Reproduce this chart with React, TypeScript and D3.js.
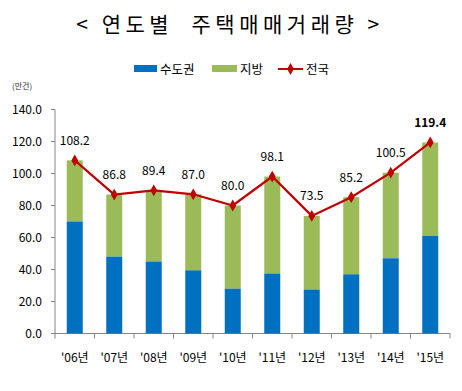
import React from "react";
import * as d3 from "d3";

const years = ["'06년", "'07년", "'08년", "'09년", "'10년", "'11년", "'12년", "'13년", "'14년", "'15년"];
const totals = [108.2, 86.8, 89.4, 87.0, 80.0, 98.1, 73.5, 85.2, 100.5, 119.4];
const capital = [70.0, 48.0, 45.0, 39.5, 28.0, 37.5, 27.5, 37.0, 47.0, 61.0];
const yTicks = [0, 20, 40, 60, 80, 100, 120, 140];

const W = 462, H = 391;
const left = 55, right = 450, top = 109.5, bottom = 333.5;
const BLUE = "#0070C0", GREEN = "#9BBB59", RED = "#C00000", AXIS = "#868686";
const FONT = "'Noto Sans CJK KR', 'Noto Sans', sans-serif";

export default function App() {
  const x = d3.scaleBand<string>().domain(years).range([left, right]).paddingInner(0).paddingOuter(0);
  const y = d3.scaleLinear().domain([0, 140]).range([bottom, top]);
  const bw = 16;
  const cx = (i: number) => (x(years[i]) as number) + x.bandwidth() / 2;
  const line = d3.line<number>().x((_, i) => cx(i)).y((d) => y(d));
  const diamond = d3.symbol().type(d3.symbolDiamond).size(40)();

  return (
    <svg width={W} height={H} style={{ position: "absolute", left: 0, top: 0, background: "#fff" }} fontFamily={FONT}>
      <text x={230} y={32} textAnchor="middle" fontSize={21} letterSpacing={4.5} fill="#000" style={{ whiteSpace: "pre" }}>
        {"< 연도별  주택매매거래량 >"}
      </text>
      {/* legend */}
      <rect x={134} y={65} width={23} height={7} fill={BLUE} />
      <text x={160} y={74} fontSize={12.5} fill="#000">수도권</text>
      <rect x={212} y={65} width={25} height={7} fill={GREEN} />
      <text x={240} y={74} fontSize={12.5} fill="#000">지방</text>
      <line x1={278} x2={303} y1={69} y2={69} stroke={RED} strokeWidth={2} />
      <path d={diamond} transform="translate(290.5,69)" fill={RED} />
      <text x={306} y={74} fontSize={12.5} fill="#000">전국</text>
      <text x={12} y={89} fontSize={8} fill="#333">(만건)</text>

      {/* y axis */}
      <line x1={left} x2={left} y1={top} y2={bottom} stroke={AXIS} />
      {yTicks.map((t) => (
        <g key={t}>
          <line x1={left - 4} x2={left} y1={y(t)} y2={y(t)} stroke={AXIS} />
          <text x={42} y={y(t) + 4.5} textAnchor="end" fontSize={12} fill="#000">{t.toFixed(1)}</text>
        </g>
      ))}
      {/* x axis */}
      <line x1={left} x2={right} y1={bottom} y2={bottom} stroke={AXIS} />
      {years.map((c, i) => (
        <line key={"t" + i} x1={(x(c) as number) + x.bandwidth()} x2={(x(c) as number) + x.bandwidth()} y1={bottom} y2={bottom + 5} stroke={AXIS} />
      ))}
      <line x1={left} x2={left} y1={bottom} y2={bottom + 5} stroke={AXIS} />
      {years.map((c, i) => (
        <text key={"xl" + i} x={cx(i)} y={362} textAnchor="middle" fontSize={12} fill="#000">{c}</text>
      ))}

      {/* bars */}
      {years.map((c, i) => (
        <g key={"b" + i}>
          <rect x={cx(i) - bw / 2} y={y(totals[i])} width={bw} height={y(capital[i]) - y(totals[i])} fill={GREEN} />
          <rect x={cx(i) - bw / 2} y={y(capital[i])} width={bw} height={bottom - y(capital[i])} fill={BLUE} />
        </g>
      ))}

      {/* line */}
      <path d={line(totals) as string} fill="none" stroke={RED} strokeWidth={2.2} />
      {totals.map((v, i) => (
        <path key={"m" + i} d={diamond} transform={`translate(${cx(i)},${y(v)})`} fill={RED} />
      ))}
      {totals.map((v, i) => (
        <text key={"v" + i} x={cx(i)} y={y(v) - 15.5} textAnchor="middle" fontSize={12} fill="#000"
          fontWeight={i === totals.length - 1 ? "bold" : "normal"}>{v.toFixed(1)}</text>
      ))}
    </svg>
  );
}
